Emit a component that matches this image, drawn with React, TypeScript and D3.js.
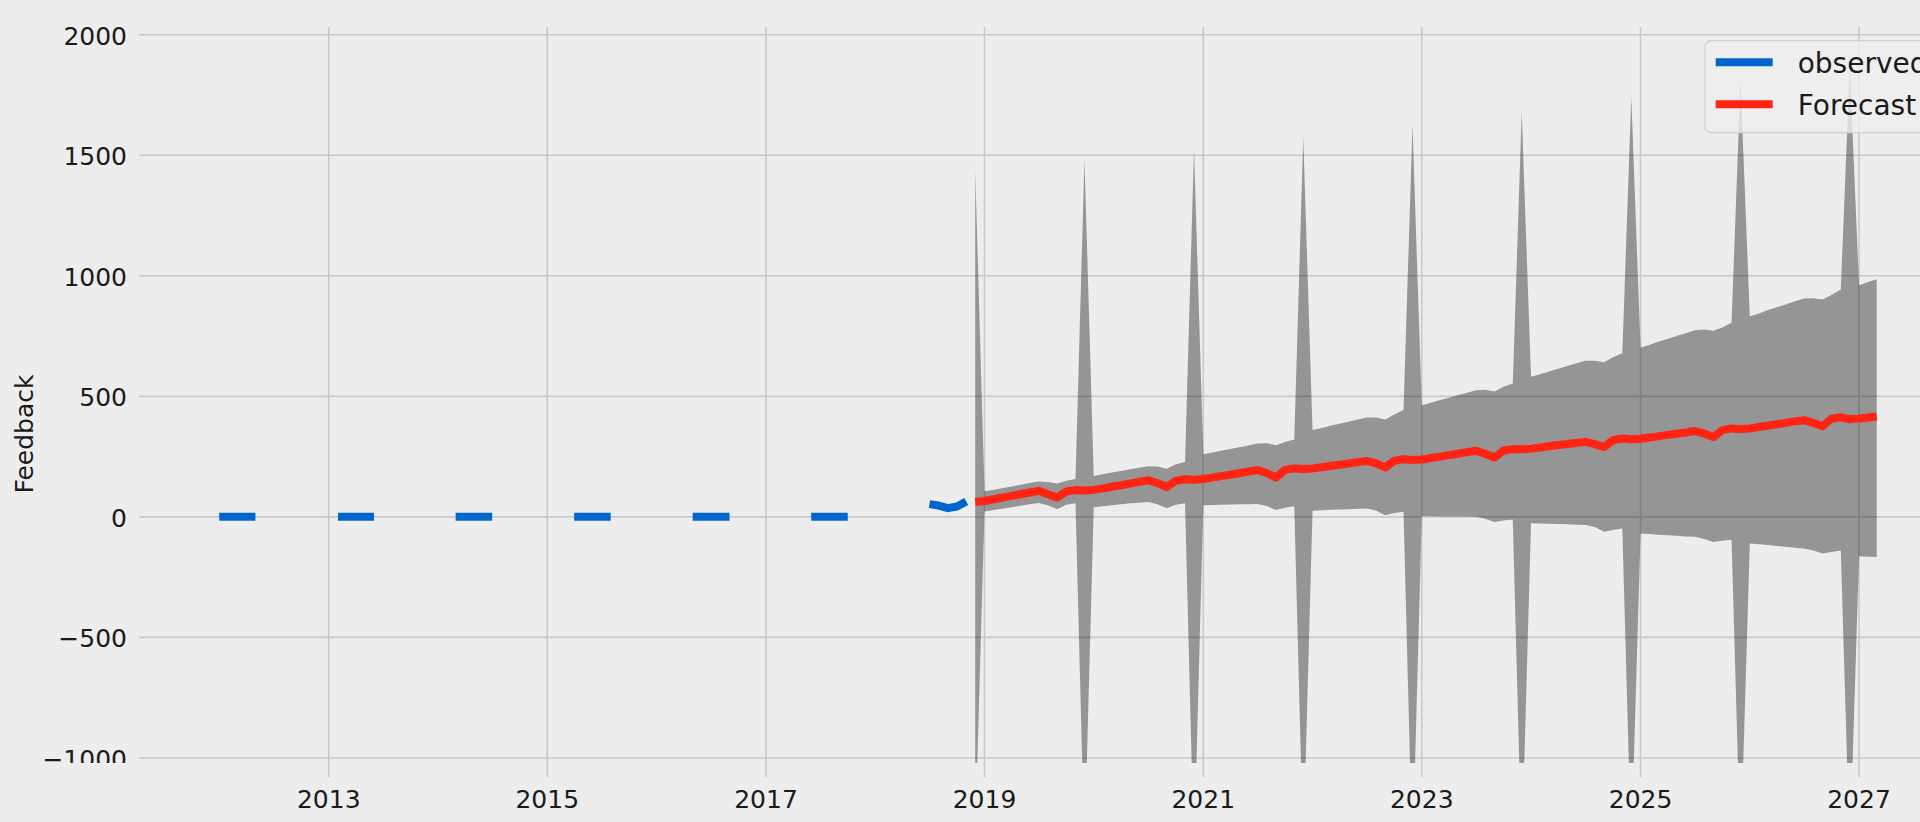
import React, { useEffect, useRef } from "react";
import * as d3 from "d3";

const WIDTH = 1920;
const HEIGHT = 822;

// observed series: short monthly runs (the rest of the months are missing)
const observedStarts = ["2012-01", "2013-02", "2014-03", "2015-04", "2016-05", "2017-06", "2018-07"];
const observedRuns = [
  [0, 0, 0, 0, 0],
  [0, 0, 0, 0, 0],
  [0, 0, 0, 0, 0],
  [0, 0, 0, 0, 0],
  [0, 0, 0, 0, 0],
  [0, 0, 0, 0, 0],
  [53, 47, 36, 43, 64],
];

// forecast, monthly from Dec 2018 to Mar 2027 (one row per Dec..Nov)
const forecastStart = "2018-12";
const forecastMean = [
  62, 66, 73, 80, 87, 94, 101, 108, 94, 80, 105, 111,
  109, 112, 118, 125, 131, 138, 145, 152, 140, 124, 150, 156,
  154, 157, 163, 169, 175, 181, 188, 194, 182, 163, 195, 201,
  199, 201, 206, 211, 216, 221, 227, 232, 222, 205, 233, 239,
  236, 238, 244, 250, 256, 262, 268, 274, 262, 246, 275, 281,
  280, 283, 288, 293, 298, 302, 307, 311, 302, 290, 318, 325,
  322, 324, 329, 334, 340, 345, 350, 356, 346, 331, 360, 367,
  364, 367, 373, 378, 384, 390, 396, 401, 390, 376, 407, 413,
  405, 408, 412, 416,
];
const forecastUpper = [
  1438, 106, 112, 119, 126, 133, 140, 147, 145, 138, 150, 157,
  1482, 170, 177, 184, 190, 197, 204, 210, 209, 200, 218, 228,
  1528, 260, 267, 274, 281, 289, 296, 304, 305, 297, 311, 321,
  1576, 360, 369, 378, 386, 395, 404, 412, 412, 404, 425, 443,
  1625, 463, 473, 484, 494, 504, 515, 525, 527, 520, 540, 553,
  1680, 581, 592, 603, 614, 626, 637, 648, 648, 641, 662, 679,
  1742, 702, 714, 726, 738, 750, 762, 774, 777, 772, 785, 805,
  1811, 832, 844, 857, 869, 881, 894, 906, 907, 902, 920, 943,
  1870, 961, 974, 986,
];
const forecastLower = [
  -1320, 22, 28, 34, 40, 46, 52, 58, 48, 32, 50, 56,
  -1380, 40, 44, 48, 52, 56, 59, 62, 52, 36, 50, 56,
  -1400, 48, 49, 50, 51, 52, 52, 53, 45, 28, 38, 44,
  -1380, 25, 27, 29, 31, 32, 34, 35, 26, 7, 16, 21,
  -1420, 3, 3, 2, 2, 1, 1, 0, -8, -21, -15, -11,
  -1400, -27, -28, -29, -30, -31, -33, -34, -42, -62, -55, -48,
  -1380, -69, -71, -74, -76, -78, -81, -83, -92, -104, -99, -95,
  -1400, -110, -114, -117, -121, -124, -128, -131, -140, -152, -146, -140,
  -1390, -163, -165, -166,
];

const yTicks = [-1000, -500, 0, 500, 1000, 1500, 2000];
const xTickYears = [2013, 2015, 2017, 2019, 2021, 2023, 2025, 2027];
const legendLabels = ["observed", "Forecast"];
const seriesColors = ["#0066cc", "#ff2412"];

const FONT = "'DejaVu Sans', sans-serif";

const ForecastChart = () => {
  const svgRef = useRef<SVGSVGElement | null>(null);

  useEffect(() => {
    if (!svgRef.current) return;
    const svg = d3.select(svgRef.current);
    svg.selectAll("*").remove();

    const plot = { left: 139.3, right: 1959, top: 27, bottom: 763 };
    const parseMonth = d3.timeParse("%Y-%m");

    const x = d3
      .scaleTime()
      .domain([new Date(2011, 3, 9), new Date(2027, 11, 1)])
      .range([plot.left, plot.right]);
    const y = d3.scaleLinear().domain([-1021, 2032]).range([plot.bottom, plot.top]);

    svg.append("rect").attr("width", WIDTH).attr("height", HEIGHT).attr("fill", "#ededed");

    const defs = svg.append("defs");
    defs
      .append("clipPath")
      .attr("id", "plot-clip")
      .append("rect")
      .attr("x", plot.left)
      .attr("y", plot.top)
      .attr("width", plot.right - plot.left)
      .attr("height", plot.bottom - plot.top);
    defs
      .append("clipPath")
      .attr("id", "ylab-clip")
      .append("rect")
      .attr("x", 0)
      .attr("y", 0)
      .attr("width", plot.left)
      .attr("height", plot.bottom);

    // grid
    const grid = svg.append("g").attr("stroke", "#c9c9c9").attr("stroke-width", 1.6);
    yTicks.forEach((t) => {
      grid.append("line").attr("x1", plot.left).attr("x2", plot.right).attr("y1", y(t)).attr("y2", y(t));
    });
    xTickYears.forEach((yr) => {
      const xx = x(new Date(yr, 0, 1));
      grid.append("line").attr("x1", xx).attr("x2", xx).attr("y1", plot.top).attr("y2", plot.bottom);
      grid.append("line").attr("x1", xx).attr("x2", xx).attr("y1", plot.bottom).attr("y2", plot.bottom + 14);
    });

    // y tick labels
    const yLab = svg.append("g").attr("clip-path", "url(#ylab-clip)");
    yTicks.forEach((t) => {
      yLab
        .append("text")
        .attr("x", 127)
        .attr("y", y(t) + 10)
        .attr("text-anchor", "end")
        .attr("font-family", FONT)
        .attr("font-size", 25)
        .attr("fill", "#1a1a1a")
        .text(t < 0 ? `\u2212${Math.abs(t)}` : `${t}`);
    });

    // x tick labels
    xTickYears.forEach((yr) => {
      svg
        .append("text")
        .attr("x", x(new Date(yr, 0, 1)))
        .attr("y", 808)
        .attr("text-anchor", "middle")
        .attr("font-family", FONT)
        .attr("font-size", 25)
        .attr("fill", "#1a1a1a")
        .text(`${yr}`);
    });

    svg
      .append("text")
      .attr("transform", `translate(33,434) rotate(-90)`)
      .attr("text-anchor", "middle")
      .attr("font-family", FONT)
      .attr("font-size", 25)
      .attr("fill", "#1a1a1a")
      .text("Feedback");

    const body = svg.append("g").attr("clip-path", "url(#plot-clip)");

    // forecast data rows
    const fStart = parseMonth(forecastStart) as Date;
    const fRows = forecastMean.map((m, i) => ({
      date: d3.timeMonth.offset(fStart, i),
      mean: m,
      upper: forecastUpper[i],
      lower: forecastLower[i],
    }));

    const area = d3
      .area<(typeof fRows)[number]>()
      .x((d) => x(d.date))
      .y0((d) => y(d.lower))
      .y1((d) => y(d.upper));
    body.append("path").datum(fRows).attr("d", area).attr("fill", "#000").attr("fill-opacity", 0.37);

    // observed runs
    const obsLine = d3
      .line<{ date: Date; value: number }>()
      .x((d) => x(d.date))
      .y((d) => y(d.value));
    observedStarts.forEach((s, k) => {
      const start = parseMonth(s) as Date;
      const pts = observedRuns[k].map((v, i) => ({ date: d3.timeMonth.offset(start, i), value: v }));
      body
        .append("path")
        .datum(pts)
        .attr("d", obsLine)
        .attr("fill", "none")
        .attr("stroke", seriesColors[0])
        .attr("stroke-width", 8)
        .attr("stroke-linejoin", "round");
    });

    const meanLine = d3
      .line<(typeof fRows)[number]>()
      .x((d) => x(d.date))
      .y((d) => y(d.mean));
    body
      .append("path")
      .datum(fRows)
      .attr("d", meanLine)
      .attr("fill", "none")
      .attr("stroke", seriesColors[1])
      .attr("stroke-width", 8)
      .attr("stroke-linejoin", "round");

    // legend
    const legend = svg.append("g");
    legend
      .append("rect")
      .attr("x", 1705)
      .attr("y", 40.7)
      .attr("width", 400)
      .attr("height", 92)
      .attr("rx", 6)
      .attr("fill", "#ededed")
      .attr("fill-opacity", 0.8)
      .attr("stroke", "#d0d0d0")
      .attr("stroke-width", 1.2);
    legendLabels.forEach((label, i) => {
      const ly = 62.3 + i * 42;
      legend
        .append("line")
        .attr("x1", 1715.7)
        .attr("x2", 1772.7)
        .attr("y1", ly)
        .attr("y2", ly)
        .attr("stroke", seriesColors[i])
        .attr("stroke-width", 8);
      legend
        .append("text")
        .attr("x", 1797.7)
        .attr("y", ly + 10.3)
        .attr("font-family", FONT)
        .attr("font-size", 28)
        .attr("fill", "#1a1a1a")
        .text(label);
    });
  }, []);

  return (
    <svg
      ref={svgRef}
      width={WIDTH}
      height={HEIGHT}
      style={{ position: "absolute", left: 0, top: 0, display: "block" }}
    />
  );
};

export default function App() {
  return <ForecastChart />;
}
